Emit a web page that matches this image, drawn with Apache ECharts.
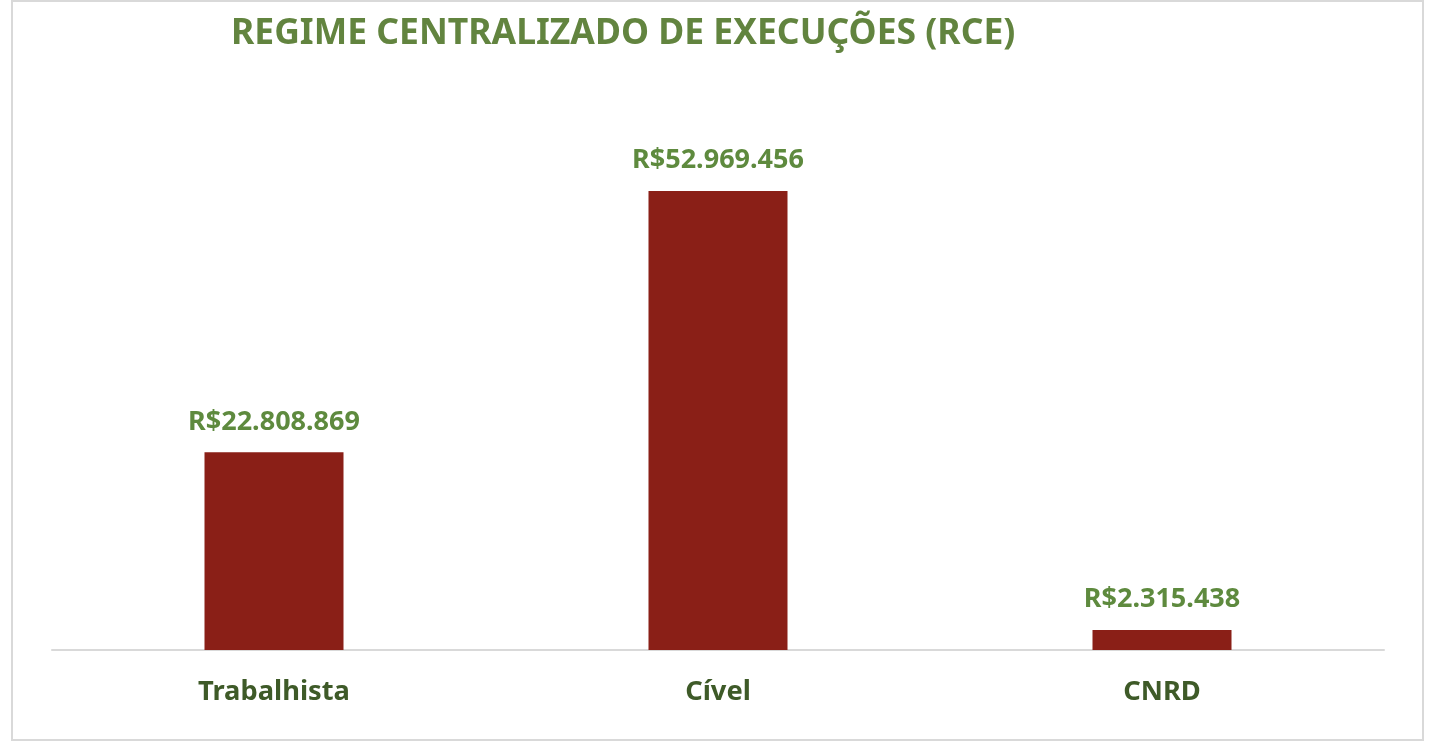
<!DOCTYPE html>
<html>
<head>
<meta charset="utf-8">
<script src="https://cdn.jsdelivr.net/npm/echarts@6/dist/echarts.min.js"></script>
<style>
  html, body { margin: 0; padding: 0; background: #fff; }
  #chart { width: 1432px; height: 748px; }
</style>
</head>
<body>
<div id="chart"></div>
<script>
var categories = ['Trabalhista', 'Cível', 'CNRD'];
var values = [22808869, 52969456, 2315438];
var chartTitle = 'REGIME CENTRALIZADO DE EXECUÇÕES (RCE)';

var fontName = '"Liberation Sans Narrow", "Noto Sans", sans-serif';

// formata no padrão brasileiro: R$52.969.456
function brl(v) {
    return 'R$' + String(v).replace(/\B(?=(\d{3})+(?!\d))/g, '.');
}

var myChart = echarts.init(document.getElementById('chart'));

var option = {
    backgroundColor: '#fff',
    animation: false,
    title: {
        text: chartTitle,
        left: 226,
        top: 11,
        textStyle: {
            color: '#62843f',
            fontFamily: fontName,
            fontWeight: 'bold',
            fontSize: 35.5
        }
    },
    graphic: [{
        type: 'rect',
        shape: { x: 12, y: 1, width: 1411, height: 739 },
        style: { fill: 'none', stroke: '#d9d9d9', lineWidth: 2 },
        silent: true
    }],
    grid: {
        left: 52,
        right: 48,
        top: 130,
        bottom: 98
    },
    xAxis: {
        type: 'category',
        data: categories,
        axisLine: { lineStyle: { color: '#d9d9d9', width: 2 } },
        axisTick: { show: false },
        axisLabel: {
            margin: 29,
            color: '#3e5a28',
            fontFamily: fontName,
            fontWeight: 'bold',
            fontSize: 27.3
        }
    },
    yAxis: {
        type: 'value',
        min: 0,
        max: 60000000,
        show: false,
        splitLine: { show: false }
    },
    series: [{
        type: 'bar',
        data: values,
        barWidth: 139,
        itemStyle: { color: '#8a1f17' },
        label: {
            show: true,
            position: 'top',
            distance: 17,
            color: '#5e8a3e',
            fontFamily: fontName,
            fontWeight: 'bold',
            fontSize: 27,
            formatter: function(p) {
                return brl(p.value);
            }
        }
    }]
};

myChart.setOption(option);
</script>
</body>
</html>
